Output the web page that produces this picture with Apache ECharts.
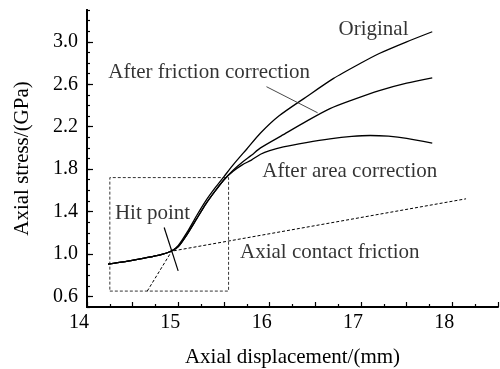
<!DOCTYPE html>
<html>
<head>
<meta charset="utf-8">
<script src="https://cdn.jsdelivr.net/npm/echarts@6/dist/echarts.min.js"></script>
<style>
  html, body { margin: 0; padding: 0; background: #fff; }
  #chart { width: 500px; height: 369px; }
</style>
</head>
<body>
<div id="chart"></div>
<script>
// Axial stress vs axial displacement: raw curve and two corrections.
// Shared loading segment before the hit point (mm, GPa)
const loadX = [14.23, 14.4, 14.55, 14.7, 14.82, 14.93];
const loadY = [0.905, 0.925, 0.948, 0.972, 0.995, 1.03];

// Original curve after the hit point
const originalX = [15.0, 15.1, 15.2, 15.3, 15.4, 15.5, 15.6, 15.75, 15.9, 16.1, 16.4, 16.7, 17.0, 17.2, 17.5, 17.78];
const originalY = [1.08, 1.21, 1.36, 1.50, 1.62, 1.73, 1.84, 1.99, 2.14, 2.30, 2.48, 2.655, 2.80, 2.89, 3.00, 3.095];

// After friction correction
const frictionX = [15.0, 15.1, 15.2, 15.3, 15.4, 15.5, 15.6, 15.7, 15.8, 15.9, 16.15, 16.4, 16.66, 16.9, 17.2, 17.5, 17.78];
const frictionY = [1.07, 1.19, 1.33, 1.47, 1.59, 1.70, 1.79, 1.865, 1.93, 2.0, 2.125, 2.25, 2.37, 2.45, 2.54, 2.61, 2.66];

// After area correction
const areaX = [15.0, 15.1, 15.2, 15.3, 15.4, 15.5, 15.6, 15.7, 15.8, 15.9, 16.0, 16.15, 16.4, 16.66, 16.9, 17.1, 17.3, 17.5, 17.78];
const areaY = [1.07, 1.19, 1.33, 1.47, 1.59, 1.70, 1.78, 1.84, 1.885, 1.94, 1.975, 2.01, 2.05, 2.085, 2.108, 2.117, 2.11, 2.09, 2.045];

// Axial contact friction line (dashed)
const contactX = [14.95, 18.15];
const contactY = [1.03, 1.52];

// Tangent of the loading branch down to the hit point
const tangentX = [14.66, 14.93];
const tangentY = [0.65, 1.03];

// Zoom window around the hit point
const boxX = [14.25, 15.55];
const boxY = [0.65, 1.72];

// Hit point marker stroke and leader for the friction label
const hitMarkX = [14.845, 14.998];
const hitMarkY = [1.25, 0.84];
const leaderX = [15.965, 16.525];
const leaderY = [2.577, 2.331];

// Axis tick labels
const xTickLabels = [14, 15, 16, 17, 18];
const yTickLabels = [0.6, 1.0, 1.4, 1.8, 2.2, 2.6, 3.0];

const pairs = (xs, ys) => xs.map((x, i) => [x, ys[i]]);
const curve = (xs, ys) => pairs(loadX, loadY).concat(pairs(xs, ys));

const FONT = 'Liberation Serif';
const black = '#000';

const notes = [
  { text: 'Original', at: [16.754, 3.118] },
  { text: 'After friction correction', at: [14.233, 2.715] },
  { text: 'After area correction', at: [15.92, 1.779] },
  { text: 'Hit point', at: [14.306, 1.386] },
  { text: 'Axial contact friction', at: [15.675, 1.013] }
];

function lineSeries(data, opts) {
  return Object.assign({
    type: 'line',
    data: data,
    showSymbol: false,
    symbol: 'none',
    silent: true,
    animation: false,
    lineStyle: { color: black, width: 1.3 }
  }, opts || {});
}

const chart = echarts.init(document.getElementById('chart'), null, { renderer: 'canvas' });

chart.setOption({
  animation: false,
  backgroundColor: '#fff',
  grid: { left: 87, right: 2, top: 10, bottom: 62, containLabel: false, outerBoundsMode: 'none' },
  xAxis: [{
    type: 'value',
    min: 14, max: 18.5, interval: 0.5,
    name: 'Axial displacement/(mm)',
    nameLocation: 'middle',
    nameGap: 40,
    nameTextStyle: { fontFamily: FONT, fontSize: 21, color: black },
    axisLine: { show: true, onZero: false, lineStyle: { color: black, width: 2 } },
    axisTick: { show: true, inside: true, length: 5, lineStyle: { color: black, width: 1.2 } },
    minorTick: { show: true, splitNumber: 2, length: 3, lineStyle: { color: black, width: 1.2 } },
    splitLine: { show: false },
    axisLabel: {
      fontFamily: FONT, fontSize: 20, color: black, margin: 6,
      padding: [0, 16, 0, 0],
      formatter: v => (xTickLabels.indexOf(v) >= 0 ? String(v) : '')
    }
  }],
  yAxis: [{
    type: 'value',
    min: 0.5, max: 3.3, interval: 0.1,
    position: 'left',
    axisLine: { show: true, onZero: false, lineStyle: { color: black, width: 2 } },
    axisTick: { show: true, inside: true, length: 3, lineStyle: { color: black, width: 1.2 } },
    axisLabel: { show: false },
    splitLine: { show: false }
  }, {
    type: 'value',
    min: 0.5, max: 3.3,
    position: 'left',
    name: 'Axial stress/(GPa)',
    nameLocation: 'middle',
    nameGap: 54,
    nameTextStyle: { fontFamily: FONT, fontSize: 21, color: black },
    axisLine: { show: true, onZero: false, lineStyle: { color: black, width: 2 } },
    axisTick: { show: true, inside: true, length: 6, customValues: yTickLabels, lineStyle: { color: black, width: 1.2 } },
    axisLabel: {
      fontFamily: FONT, fontSize: 20, color: black, margin: 9,
      customValues: yTickLabels,
      formatter: v => v.toFixed(1)
    },
    splitLine: { show: false }
  }],
  series: [
    lineSeries(curve(originalX, originalY), { smooth: 0.25 }),
    lineSeries(curve(frictionX, frictionY), { smooth: 0.25 }),
    lineSeries(curve(areaX, areaY), { smooth: 0.25 }),
    lineSeries(pairs(contactX, contactY), { lineStyle: { color: black, width: 1, type: [3, 2] } }),
    lineSeries(pairs(tangentX, tangentY), { lineStyle: { color: black, width: 1, type: [3, 2] } }),
    lineSeries([[boxX[0], boxY[0]], [boxX[1], boxY[0]], [boxX[1], boxY[1]], [boxX[0], boxY[1]], [boxX[0], boxY[0]]],
      { lineStyle: { color: black, width: 0.8, type: [3, 2] } }),
    lineSeries(pairs(hitMarkX, hitMarkY), { lineStyle: { color: black, width: 1.2 } }),
    lineSeries(pairs(leaderX, leaderY), { lineStyle: { color: '#333', width: 0.9 } }),
    {
      type: 'scatter',
      silent: true,
      animation: false,
      symbolSize: 0,
      data: notes.map(n => ({ value: n.at, name: n.text })),
      label: {
        show: true,
        position: 'right',
        distance: 0,
        formatter: p => p.name,
        fontFamily: FONT,
        fontSize: 21,
        color: black
      }
    }
  ]
});
</script>
</body>
</html>
